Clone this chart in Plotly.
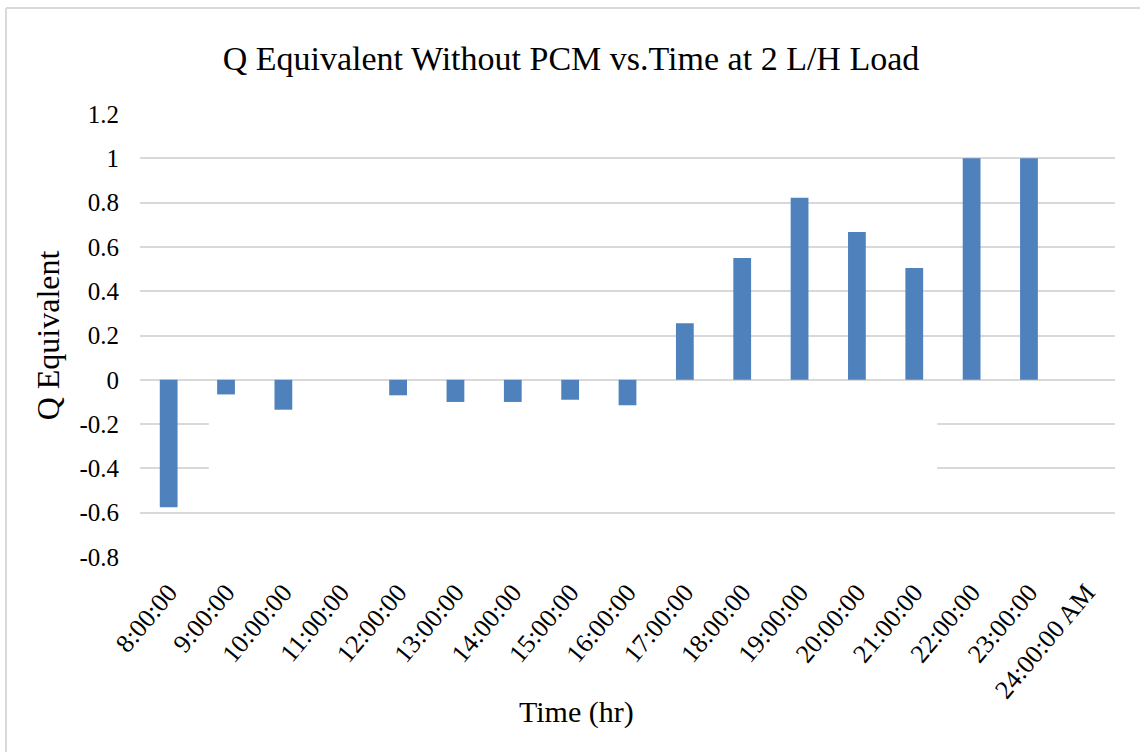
import plotly.graph_objects as go

times = ["8:00:00", "9:00:00", "10:00:00", "11:00:00", "12:00:00", "13:00:00",
         "14:00:00", "15:00:00", "16:00:00", "17:00:00", "18:00:00", "19:00:00",
         "20:00:00", "21:00:00", "22:00:00", "23:00:00", "24:00:00 AM"]
q_equiv = [-0.575, -0.066, -0.135, None, -0.07, -0.10, -0.10, -0.09, -0.115,
           0.255, 0.55, 0.822, 0.667, 0.505, 1.0, 1.0, None]
y_ticks = [-0.8, -0.6, -0.4, -0.2, 0, 0.2, 0.4, 0.6, 0.8, 1, 1.2]
y_tick_text = ["-0.8", "-0.6", "-0.4", "-0.2", "0", "0.2", "0.4", "0.6", "0.8", "1", "1.2"]

FONT = "Liberation Serif"
GRID = "#d9d9d9"

fig = go.Figure()
fig.add_trace(go.Bar(x=times, y=q_equiv, marker=dict(color="#4f81bd", line=dict(width=0)),
                     showlegend=False))

W, H = 1140, 752
L, R, T, B = 140, 25, 114, 195
pw, ph = W - L - R, H - T - B

def px_x(p):
    return (p - L) / pw

def px_y(p):
    return (H - B - p) / ph

fig.update_layout(
    width=W, height=H,
    margin=dict(l=L, r=R, t=T, b=B),
    paper_bgcolor="white", plot_bgcolor="white",
    bargap=0.69,
    font=dict(family=FONT, color="black", size=25),
    title=dict(text="Q Equivalent Without PCM vs.Time at 2 L/H Load",
               x=571 / W, xanchor="center", xref="container",
               y=1 - 58 / H, yanchor="middle", yref="container",
               font=dict(family=FONT, size=34, color="black")),
    xaxis=dict(type="category", tickangle=-50, tickfont=dict(family=FONT, size=26, color="black"),
               showgrid=False, showline=False, ticks="", ticklabelstandoff=14),
    yaxis=dict(range=[-0.8, 1.2], tickvals=y_ticks, ticktext=y_tick_text,
               tickfont=dict(family=FONT, size=25, color="black"), showgrid=True, gridcolor=GRID,
               gridwidth=2, zeroline=True, zerolinecolor=GRID, zerolinewidth=2,
               showline=False, ticks="", ticklabelstandoff=20,
               title=dict(text="Q Equivalent", font=dict(family=FONT, size=32, color="black"),
                          standoff=10)),
    annotations=[dict(text="Time (hr)", xref="paper", yref="paper",
                      x=px_x(576), y=px_y(712), xanchor="center", yanchor="middle",
                      showarrow=False, font=dict(family=FONT, size=30, color="black"))],
    shapes=[
        # gaps in the -0.2 and -0.4 gridlines as in the reference
        dict(type="line", xref="x", yref="y", x0=0.70, x1=13.40, y0=-0.2, y1=-0.2,
             line=dict(color="white", width=3), layer="between"),
        dict(type="line", xref="x", yref="y", x0=0.70, x1=13.40, y0=-0.4, y1=-0.4,
             line=dict(color="white", width=3), layer="between"),
        # chart frame (top and left edges)
        dict(type="line", xref="paper", yref="paper", x0=px_x(6), x1=px_x(1160),
             y0=px_y(8), y1=px_y(8), line=dict(color=GRID, width=2)),
        dict(type="line", xref="paper", yref="paper", x0=px_x(6), x1=px_x(6),
             y0=px_y(8), y1=px_y(770), line=dict(color=GRID, width=2)),
    ],
)

fig.write_html("out.html")
